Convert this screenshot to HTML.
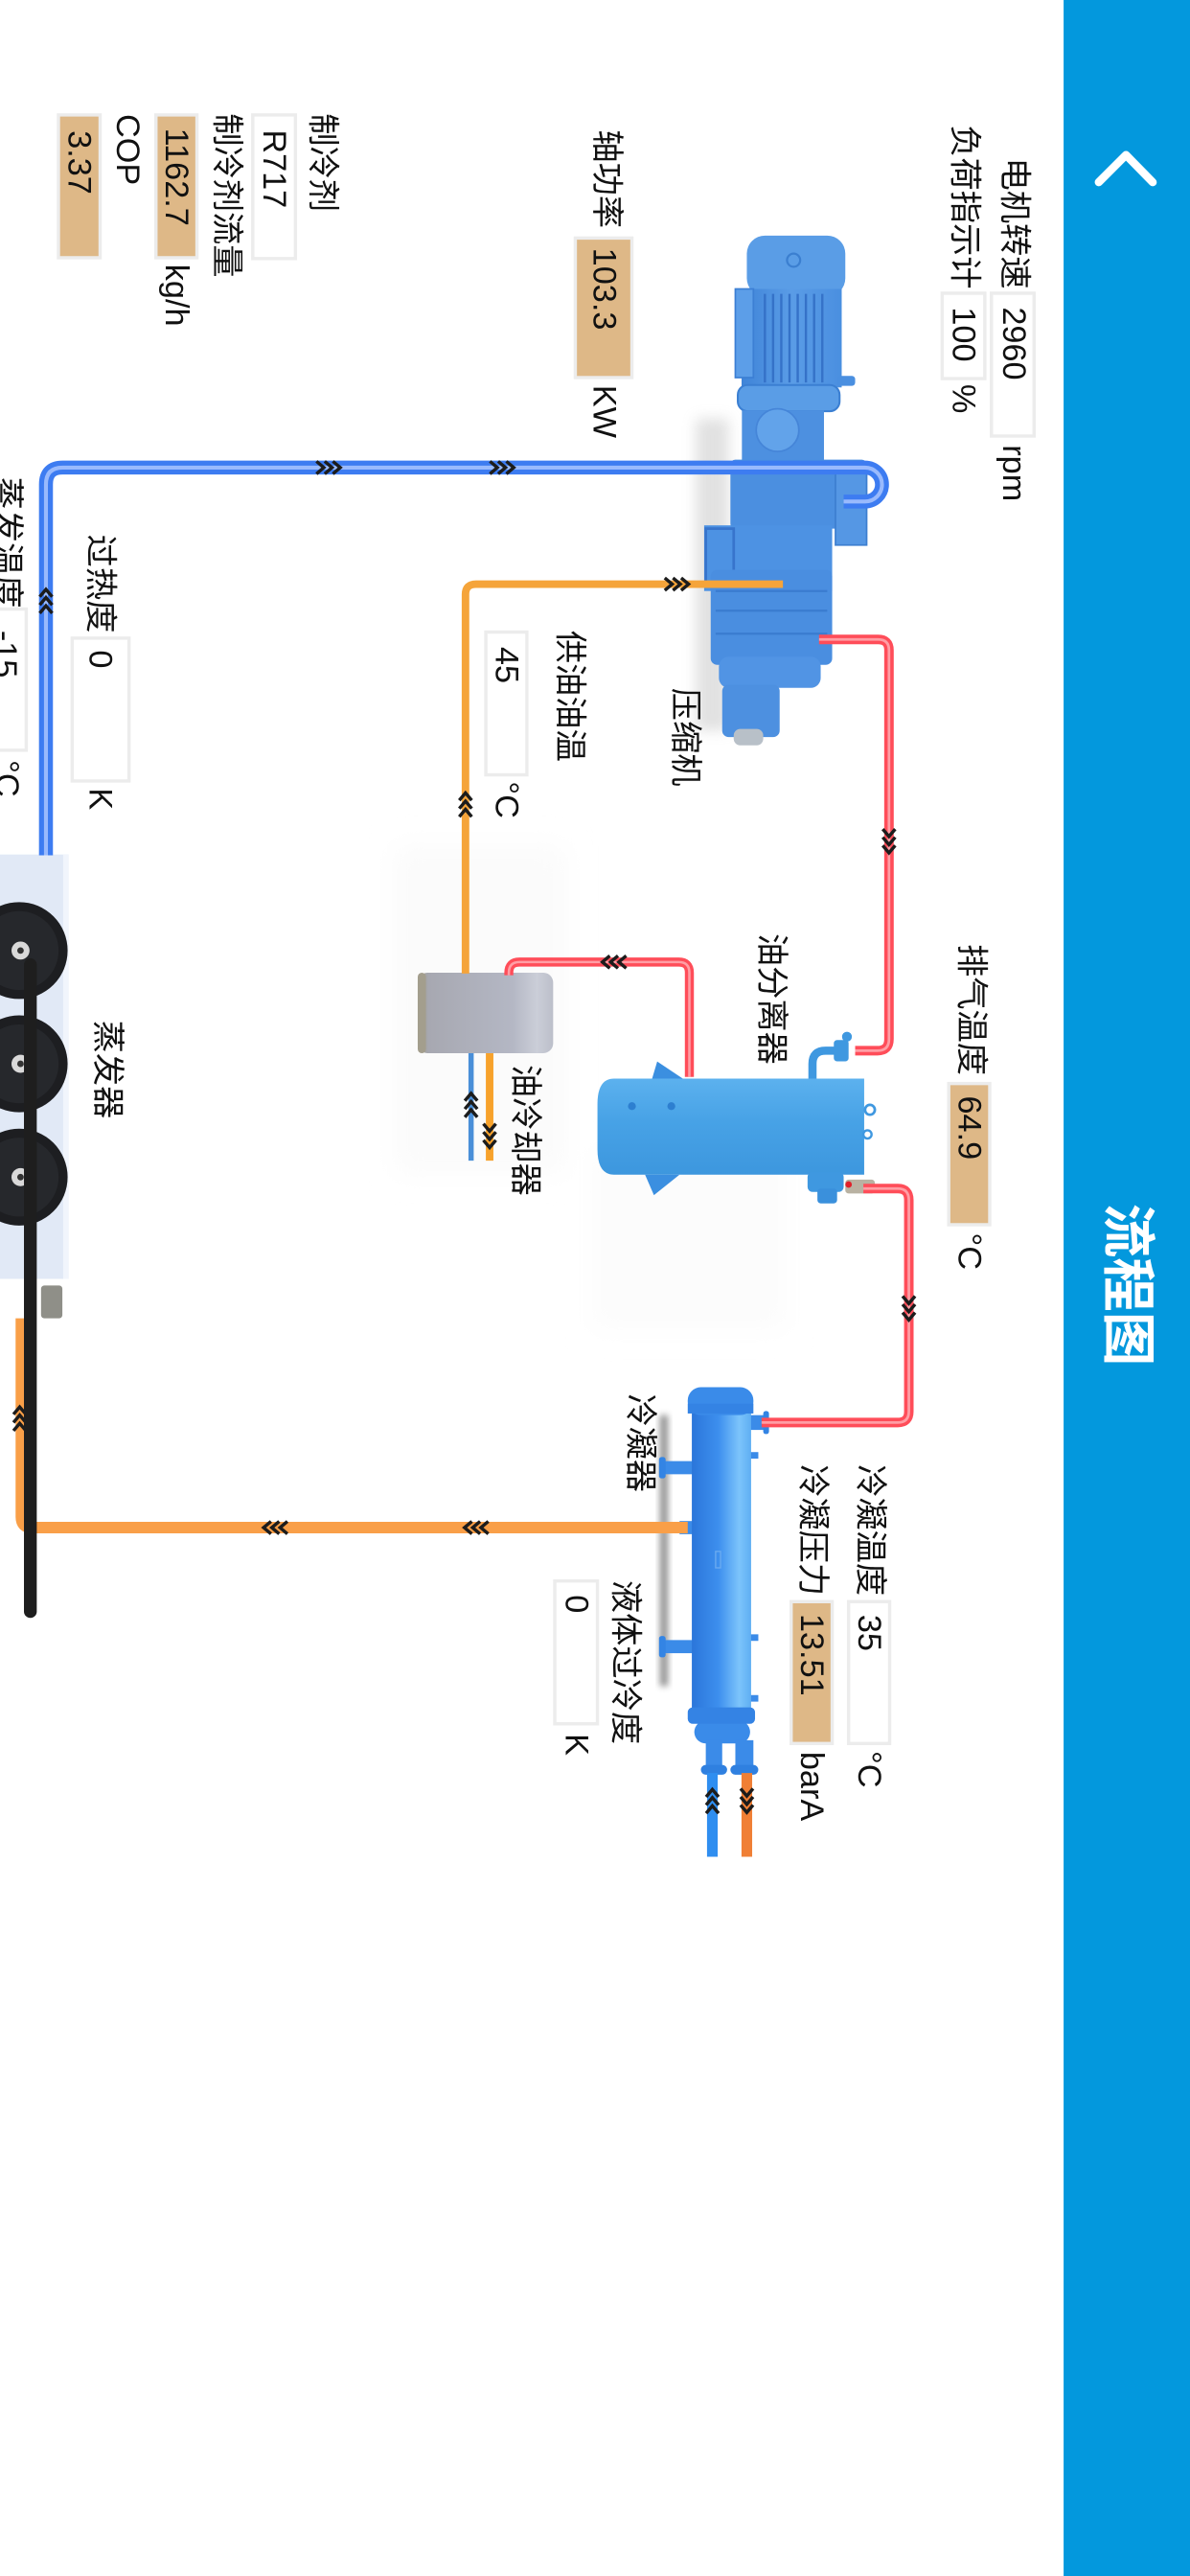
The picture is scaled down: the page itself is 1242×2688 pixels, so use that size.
<!DOCTYPE html>
<html>
<head>
<meta charset="utf-8">
<style>
  html,body{margin:0;padding:0;background:#fff;}
  body{width:1242px;height:2688px;overflow:hidden;}
  svg{display:block;}
  text{dominant-baseline:central;}
  .t{font-size:20px;fill:#111;}
</style>
</head>
<body>
<svg width="1242" height="2688" viewBox="0 0 725 1569.1" preserveAspectRatio="none" xmlns="http://www.w3.org/2000/svg" font-family="'Liberation Sans','Noto Sans CJK SC',sans-serif">
  <defs>
    <filter id="b4" x="-50%" y="-50%" width="200%" height="200%"><feGaussianBlur stdDeviation="4"/></filter>
    <filter id="b2" x="-50%" y="-50%" width="200%" height="200%"><feGaussianBlur stdDeviation="2"/></filter>
    <filter id="b8" x="-50%" y="-50%" width="200%" height="200%"><feGaussianBlur stdDeviation="8"/></filter>
    <g id="chev" fill="none" stroke="#1c1c1c" stroke-width="2" stroke-linejoin="miter">
      <polyline points="-7.5,-3.8 -3,0 -7.5,3.8"/>
      <polyline points="-2.5,-3.8 2,0 -2.5,3.8"/>
      <polyline points="2.5,-3.8 7,0 2.5,3.8"/>
    </g>
    <linearGradient id="sepG" x1="0" y1="0" x2="0" y2="1">
      <stop offset="0" stop-color="#5cb1ee"/>
      <stop offset="0.45" stop-color="#47a2e6"/>
      <stop offset="1" stop-color="#3d97de"/>
    </linearGradient>
    <linearGradient id="condG" x1="0" y1="0" x2="1" y2="0">
      <stop offset="0" stop-color="#2b76da"/>
      <stop offset="0.45" stop-color="#3d8fee"/>
      <stop offset="0.8" stop-color="#7cc4fb"/>
      <stop offset="1" stop-color="#5eaef3"/>
    </linearGradient>
    <linearGradient id="coolG" x1="0" y1="0" x2="1" y2="0">
      <stop offset="0" stop-color="#9c988a"/>
      <stop offset="0.08" stop-color="#a7a8b1"/>
      <stop offset="0.7" stop-color="#b4b7c4"/>
      <stop offset="0.88" stop-color="#cbced8"/>
      <stop offset="1" stop-color="#bcbfca"/>
    </linearGradient>
    <linearGradient id="compG" x1="0" y1="0" x2="1" y2="0">
      <stop offset="0" stop-color="#3f84d8"/>
      <stop offset="0.5" stop-color="#5a9ce6"/>
      <stop offset="1" stop-color="#4a8fe0"/>
    </linearGradient>
  </defs>

  <!-- faint background shading -->
  <rect x="240" y="515" width="105" height="200" fill="#fbfbfb" filter="url(#b8)"/>
  <rect x="360" y="700" width="120" height="110" fill="#fcfcfc" filter="url(#b8)"/>

  <!-- header -->
  <rect x="648" y="0" width="77" height="1570" fill="#0398dd"/>
  <polyline points="669.4,111 686,94.4 702.3,111" fill="none" stroke="#fff" stroke-width="4.9" stroke-linecap="round" stroke-linejoin="round"/>
  <text transform="translate(687.3,733) rotate(90)" font-size="33" font-weight="bold" fill="#fff">流程图</text>

  <!-- ============ COMPRESSOR ============ -->
  <rect x="424" y="255" width="20" height="190" fill="#aaaaaa" opacity="0.35" filter="url(#b4)"/>
  <g>
    <rect x="455" y="143.5" width="60" height="37" rx="11" fill="#5a9de6"/>
    <circle cx="483.5" cy="158.5" r="4" fill="none" stroke="#3b7fd0" stroke-width="1.3"/>
    <rect x="451.8" y="176" width="61" height="60" fill="url(#compG)"/>
    <g stroke="#3572c8" stroke-width="1.4">
      <line x1="466" y1="179" x2="466" y2="233"/>
      <line x1="471" y1="179" x2="471" y2="233"/>
      <line x1="476" y1="179" x2="476" y2="233"/>
      <line x1="481" y1="179" x2="481" y2="233"/>
      <line x1="486" y1="179" x2="486" y2="233"/>
      <line x1="491" y1="179" x2="491" y2="233"/>
      <line x1="496" y1="179" x2="496" y2="233"/>
      <line x1="501" y1="179" x2="501" y2="233"/>
    </g>
    <rect x="448" y="176" width="11" height="54" fill="#5c9ee8" stroke="#3c7fd4" stroke-width="1"/>
    <rect x="510" y="229" width="11" height="6" rx="2" fill="#4a8fe0"/>
    <rect x="449.5" y="234.5" width="62" height="16" rx="6" fill="#5a9de6" stroke="#3b7fd2" stroke-width="1.2"/>
    <rect x="452" y="250" width="50" height="32" fill="#4d90e0"/>
    <circle cx="473.7" cy="262" r="13" fill="#62a3ea" stroke="#4585d8" stroke-width="1"/>
    <rect x="445" y="280" width="83" height="42" rx="3" fill="#4b8fe0"/>
    <rect x="509" y="285" width="19" height="47" fill="#5597e4" stroke="#3d7fd0" stroke-width="1"/>
    <rect x="429" y="320" width="78" height="40" fill="#4d92e3"/>
    <rect x="430" y="322" width="17" height="35" fill="none" stroke="#3774cc" stroke-width="1.6"/>
    <rect x="433" y="347" width="74" height="58" rx="4" fill="#4a8ee0"/>
    <g stroke="#3a7bd0" stroke-width="1.3">
      <line x1="436" y1="360" x2="504" y2="360"/>
      <line x1="436" y1="372" x2="504" y2="372"/>
      <line x1="436" y1="386" x2="504" y2="386"/>
    </g>
    <rect x="438" y="400" width="62" height="19" rx="6" fill="#5194e4"/>
    <rect x="440" y="417" width="35" height="32" rx="4" fill="#4d90e0"/>
    <rect x="447" y="444" width="18" height="10" rx="4" fill="#b8c0c8"/>
  </g>

  <!-- ============ OIL COOLER ============ -->
  <rect x="254.5" y="592.5" width="82.5" height="49" rx="6" fill="url(#coolG)"/>
  <rect x="254.5" y="592.5" width="5" height="49" rx="2.5" fill="#a39e8d"/>

  <!-- ============ OIL SEPARATOR ============ -->
  <path d="M397.3 657 L400.4 646.6 L416 657 Z" fill="#3b8fe0"/>
  <path d="M393 715.5 L398.4 728 L414 715.5 Z" fill="#3b8fe0"/>
  <path d="M374 657 L526.5 657 L526.5 715.5 L374 715.5 Q364 715.5 364 700 L364 672.5 Q364 657 374 657 Z" fill="url(#sepG)"/>
  <circle cx="385" cy="673.8" r="2.4" fill="#2d7fd0"/>
  <circle cx="409" cy="673.8" r="2.4" fill="#2d7fd0"/>
  <circle cx="530" cy="676" r="3" fill="none" stroke="#3f98e0" stroke-width="1.6"/>
  <circle cx="528.5" cy="691" r="2.5" fill="none" stroke="#3f98e0" stroke-width="1.4"/>
  <!-- outlet fittings -->
  <rect x="492" y="714" width="22" height="12" rx="3" fill="#3f98e0"/>
  <rect x="498" y="724" width="12" height="9" rx="2" fill="#3a90dc"/>
  <rect x="515" y="718.5" width="18" height="8.5" rx="2" fill="#b9b2a2"/>
  <circle cx="517" cy="721.5" r="2" fill="#e0202a"/>

  <!-- ============ EVAPORATOR ============ -->
  <rect x="-4" y="520.5" width="45.8" height="258.5" fill="#e1e9f6"/>
  <rect x="38.5" y="520.5" width="3.3" height="258.5" fill="#f1f5fc"/>
  <g>
    <circle cx="11.7" cy="579" r="29.5" fill="#1d1e21"/>
    <circle cx="11.7" cy="579" r="24" fill="#26282c"/>
    <circle cx="12.5" cy="579" r="5.5" fill="#d9d9d9"/>
    <circle cx="12.5" cy="579" r="2" fill="#333"/>
    <circle cx="11.7" cy="648" r="29.5" fill="#1d1e21"/>
    <circle cx="11.7" cy="648" r="24" fill="#26282c"/>
    <circle cx="12.5" cy="648" r="5.5" fill="#d9d9d9"/>
    <circle cx="12.5" cy="648" r="2" fill="#333"/>
    <circle cx="11.7" cy="717" r="29.5" fill="#1d1e21"/>
    <circle cx="11.7" cy="717" r="24" fill="#26282c"/>
    <circle cx="12.5" cy="717" r="5.5" fill="#d9d9d9"/>
    <circle cx="12.5" cy="717" r="2" fill="#333"/>
  </g>
  <rect x="25" y="783" width="13" height="20" rx="2" fill="#8f8f88"/>

  <!-- ============ CONDENSER ============ -->
  <rect x="402" y="862" width="5" height="165" fill="#6f6f6f" opacity="0.75" filter="url(#b2)"/>
  <rect x="404" y="890" width="18" height="8" fill="#3b8be8"/>
  <rect x="401.5" y="887.5" width="4" height="13" rx="1.5" fill="#3384e4"/>
  <rect x="404" y="999" width="18" height="8" fill="#3b8be8"/>
  <rect x="401.5" y="996.5" width="4" height="13" rx="1.5" fill="#3384e4"/>
  <rect x="414" y="926.5" width="9" height="8" fill="#3b8be8"/>
  <rect x="456" y="862" width="11" height="9" fill="#3b8be8"/>
  <rect x="465" y="859.5" width="3.5" height="14" rx="1.5" fill="#3384e4"/>
  <rect x="456" y="884.5" width="6" height="4" fill="#3b8be8"/>
  <rect x="456" y="995.5" width="6" height="4" fill="#3b8be8"/>
  <rect x="456" y="1032.5" width="6" height="4" fill="#3b8be8"/>
  <rect x="421.5" y="852" width="36.1" height="192" fill="url(#condG)"/>
  <rect x="419" y="845" width="40" height="17" rx="8" fill="#3a8be9"/>
  <rect x="419" y="855" width="40" height="6" fill="#3483e4"/>
  <rect x="436" y="945" width="3" height="10" fill="none" stroke="#6aaaf0" stroke-width="0.8"/>
  <rect x="423" y="1048" width="34" height="14" rx="7" fill="#3a8be9"/>
  <rect x="419" y="1040" width="41" height="10" rx="3" fill="#3483e4"/>
  <rect x="430" y="1060" width="10" height="18" fill="#3b8be8"/>
  <rect x="427" y="1075" width="16" height="6" rx="3" fill="#2f80e0"/>
  <rect x="448" y="1060" width="11" height="18" fill="#3b8be8"/>
  <rect x="445" y="1075" width="17" height="6" rx="3" fill="#2f80e0"/>

  <!-- ============ PIPES ============ -->
  <!-- blue suction -->
  <path d="M28 521 L28 295 Q28 284.8 38.2 284.8 L527 284.8 A10.35 10.35 0 0 1 527 305.5 L514 305.5" fill="none" stroke="#3d7cf1" stroke-width="8.5"/>
  <path d="M28 521 L28 295 Q28 284.8 38.2 284.8 L527 284.8 A10.35 10.35 0 0 1 527 305.5 L514 305.5" fill="none" stroke="#a9c6ff" stroke-width="2.4" opacity="0.85"/>
  <!-- orange oil supply -->
  <path d="M477 355.8 L290 355.8 Q283.6 355.8 283.6 362 L283.6 593" fill="none" stroke="#f5a43a" stroke-width="4.6"/>
  <!-- red discharge -->
  <path d="M499 389.5 L535 389.5 Q541.6 389.5 541.6 396 L541.6 633 Q541.6 640 534.6 640 L521 640" fill="none" stroke="#ff4d59" stroke-width="5.8"/>
  <path d="M499 389.5 L535 389.5 Q541.6 389.5 541.6 396 L541.6 633 Q541.6 640 534.6 640 L521 640" fill="none" stroke="#ffb3b8" stroke-width="1.6" opacity="0.8"/>
  <!-- separator inlet fitting -->
  <path d="M495 657 L495 648 Q495 640 503 640 L512 640" fill="none" stroke="#3f98e0" stroke-width="5"/>
  <rect x="508" y="633.5" width="9" height="13" rx="2" fill="#3f98e0"/>
  <circle cx="516" cy="631.5" r="3" fill="#3f98e0"/>
  <!-- red separator to cooler -->
  <path d="M420 656 L420 592.5 Q420 586 413.5 586 L316.5 586 Q310 586 310 592.5 L310 594" fill="none" stroke="#ff4d59" stroke-width="5.5"/>
  <path d="M420 656 L420 592.5 Q420 586 413.5 586 L316.5 586 Q310 586 310 592.5 L310 594" fill="none" stroke="#ffb3b8" stroke-width="1.5" opacity="0.8"/>
  <!-- red separator to condenser -->
  <path d="M526 724 L547 724 Q553.7 724 553.7 731 L553.7 859.8 Q553.7 866.5 547 866.5 L464 866.5" fill="none" stroke="#ff4d59" stroke-width="5.8"/>
  <path d="M526 724 L547 724 Q553.7 724 553.7 731 L553.7 859.8 Q553.7 866.5 547 866.5 L464 866.5" fill="none" stroke="#ffb3b8" stroke-width="1.6" opacity="0.8"/>
  <!-- oil cooler water pipes -->
  <line x1="287" y1="641.5" x2="287" y2="707" stroke="#4a8fd8" stroke-width="3.2"/>
  <line x1="298.3" y1="641.5" x2="298.3" y2="707" stroke="#f7a22c" stroke-width="4.6"/>
  <!-- orange liquid line -->
  <path d="M419 930.5 L19.5 930.5 Q13 930.5 13 924 L13 803" fill="none" stroke="#f99f48" stroke-width="7"/>
  <!-- condenser water pipes -->
  <line x1="434" y1="1080" x2="434" y2="1131" stroke="#2f8ef0" stroke-width="6.5"/>
  <line x1="455" y1="1080" x2="455" y2="1131" stroke="#f07f35" stroke-width="6.5"/>

  <!-- ============ CHEVRONS ============ -->
  <use href="#chev" transform="translate(200.3,284.8)"/>
  <use href="#chev" transform="translate(306,284.8)"/>
  <use href="#chev" transform="translate(28,366) rotate(-90)"/>
  <use href="#chev" transform="translate(412.5,355.8)"/>
  <use href="#chev" transform="translate(283.6,490) rotate(-90)"/>
  <use href="#chev" transform="translate(541.6,512.5) rotate(90)"/>
  <use href="#chev" transform="translate(374,586) rotate(180)"/>
  <use href="#chev" transform="translate(287,673) rotate(-90)"/>
  <use href="#chev" transform="translate(298.3,692) rotate(90)"/>
  <use href="#chev" transform="translate(553.7,797) rotate(90)"/>
  <use href="#chev" transform="translate(167.6,930.5) rotate(180)"/>
  <use href="#chev" transform="translate(290,930.5) rotate(180)"/>
  <use href="#chev" transform="translate(12,864) rotate(-90)"/>
  <use href="#chev" transform="translate(434,1097) rotate(-90)"/>
  <use href="#chev" transform="translate(455,1097) rotate(90)"/>

  <!-- scrollbar -->
  <rect x="14.6" y="583.7" width="7.8" height="401.8" rx="3.9" fill="#1e1e1e"/>

  <!-- ============ VALUE BOXES ============ -->
  <g stroke="#ececec" stroke-width="2">
    <rect x="604" y="178.6" width="26" height="87" fill="#fff"/>
    <rect x="574" y="178.6" width="26" height="52" fill="#fff"/>
    <rect x="350.5" y="145" width="34.5" height="85" fill="#deb887"/>
    <rect x="154" y="70" width="26" height="87.5" fill="#fff"/>
    <rect x="95" y="70" width="25" height="87" fill="#deb887"/>
    <rect x="35.6" y="70" width="25.4" height="87" fill="#deb887"/>
    <rect x="44" y="388.7" width="34.6" height="87" fill="#fff"/>
    <rect x="-10" y="371" width="26" height="86" fill="#fff"/>
    <rect x="296" y="385" width="25" height="87" fill="#fff"/>
    <rect x="578" y="660" width="25" height="86" fill="#deb887"/>
    <rect x="517" y="975.6" width="25" height="86.4" fill="#fff"/>
    <rect x="482" y="975.6" width="25" height="86.4" fill="#deb887"/>
    <rect x="338" y="963" width="26" height="87" fill="#fff"/>
  </g>

  <!-- ============ TEXT ============ -->
  <g class="t">
    <text transform="translate(618,96) rotate(90)">电机转速</text>
    <text transform="translate(617.5,187) rotate(90)">2960</text>
    <text transform="translate(617.5,271) rotate(90)">rpm</text>

    <text transform="translate(587.5,76) rotate(90)">负荷指示计</text>
    <text transform="translate(587,187) rotate(90)">100</text>
    <text transform="translate(587,234) rotate(90)">%</text>

    <text transform="translate(369.5,79) rotate(90)">轴功率</text>
    <text transform="translate(368,151) rotate(90)">103.3</text>
    <text transform="translate(368,234.5) rotate(90)">KW</text>

    <text transform="translate(196.5,69) rotate(90)">制冷剂</text>
    <text transform="translate(167,79) rotate(90)">R717</text>
    <text transform="translate(138,69) rotate(90)">制冷剂流量</text>
    <text transform="translate(107.5,78) rotate(90)">1162.7</text>
    <text transform="translate(107.5,161) rotate(90)">kg/h</text>
    <text transform="translate(77.5,69.5) rotate(90)">COP</text>
    <text transform="translate(48.3,79.5) rotate(90)">3.37</text>

    <text transform="translate(61,325.5) rotate(90)">过热度</text>
    <text transform="translate(61,396) rotate(90)">0</text>
    <text transform="translate(61,480) rotate(90)">K</text>

    <text transform="translate(4,290.5) rotate(90)">蒸发温度</text>
    <text transform="translate(3,384) rotate(90)">-15</text>
    <text transform="translate(4,463) rotate(90)">°C</text>

    <text transform="translate(347,384) rotate(90)">供油油温</text>
    <text transform="translate(308.5,394) rotate(90)">45</text>
    <text transform="translate(308.5,476) rotate(90)">°C</text>

    <text transform="translate(417.5,419) rotate(90)">压缩机</text>

    <text transform="translate(591.5,575) rotate(90)">排气温度</text>
    <text transform="translate(590.5,667.5) rotate(90)">64.9</text>
    <text transform="translate(590.5,751) rotate(90)">°C</text>

    <text transform="translate(470,568.5) rotate(90)">油分离器</text>
    <text transform="translate(320,648.5) rotate(90)">油冷却器</text>
    <text transform="translate(65.5,621.5) rotate(90)">蒸发器</text>
    <text transform="translate(390,849) rotate(90)">冷凝器</text>

    <text transform="translate(530,892) rotate(90)">冷凝温度</text>
    <text transform="translate(529.5,983.5) rotate(90)">35</text>
    <text transform="translate(529.5,1066.5) rotate(90)">°C</text>

    <text transform="translate(495,892) rotate(90)">冷凝压力</text>
    <text transform="translate(494.5,983) rotate(90)">13.51</text>
    <text transform="translate(494.5,1067) rotate(90)">barA</text>

    <text transform="translate(381,962.5) rotate(90)">液体过冷度</text>
    <text transform="translate(351,971.5) rotate(90)">0</text>
    <text transform="translate(351,1056) rotate(90)">K</text>
  </g>
</svg>
</body>
</html>
